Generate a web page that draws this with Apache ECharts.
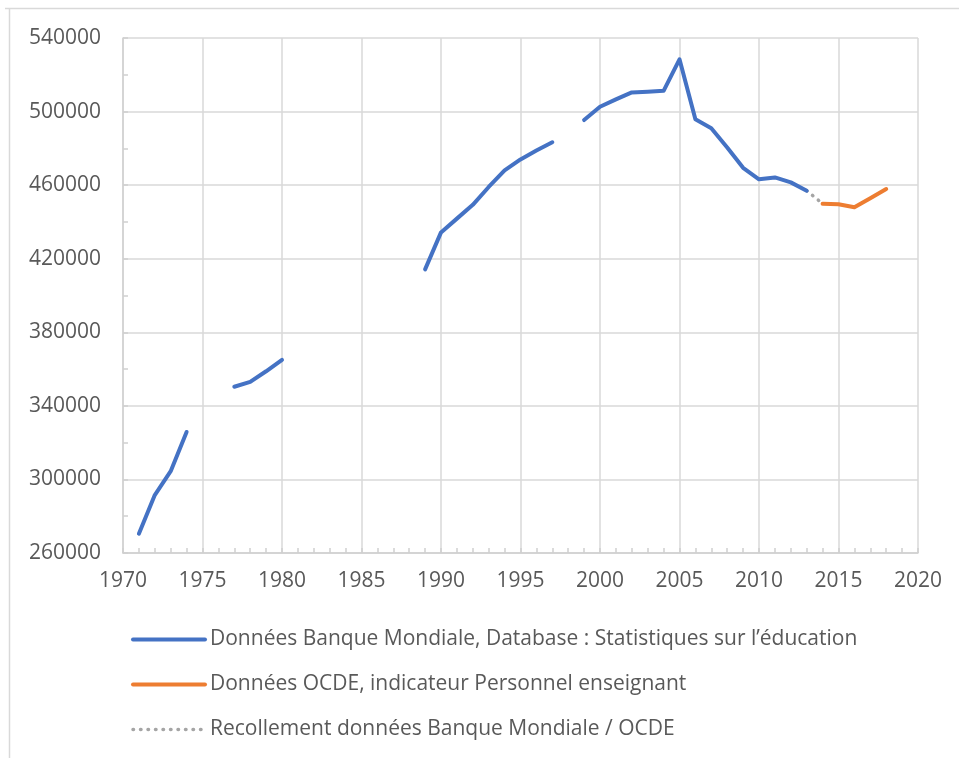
<!DOCTYPE html>
<html><head><meta charset="utf-8">
<script src="https://cdn.jsdelivr.net/npm/echarts@6/dist/echarts.min.js"></script>
<style>html,body{margin:0;padding:0;background:#fff}#c{width:959px;height:758px}</style>
</head><body><div id="c"></div>
<script>
const years = [1971,1972,1973,1974,1975,1976,1977,1978,1979,1980,1981,1982,1983,1984,1985,1986,1987,1988,1989,1990,1991,1992,1993,1994,1995,1996,1997,1998,1999,2000,2001,2002,2003,2004,2005,2006,2007,2008,2009,2010,2011,2012,2013];
const banqueMondiale = [270500,291500,304500,325800,null,null,350400,353000,358800,365000,null,null,null,null,null,null,null,null,414200,434300,441800,449300,459000,468000,474000,478800,483300,null,495400,502600,506600,510400,510800,511300,528400,495800,490900,480500,469400,463200,464200,461500,457000];
const ocdeYears = [2014,2015,2016,2017,2018];
const ocde = [449900,449600,448000,452900,457900];
const recolYears = [2013,2014];
const recol = [457000,449900];
const seriesNames = ["Données Banque Mondiale, Database : Statistiques sur l’éducation","Données OCDE, indicateur Personnel enseignant","Recollement données Banque Mondiale / OCDE"];

const pair = (xs, ys) => xs.map((x, i) => [x, ys[i]]);
const FONT = "Open Sans";
const chart = echarts.init(document.getElementById('c'), null, {renderer: 'canvas'});
chart.setOption({
  animation: false,
  backgroundColor: '#fff',
  textStyle: {fontFamily: FONT},
  grid: {left: 123, right: 41, top: 38, bottom: 205, containLabel: false},
  xAxis: {
    type: 'value', min: 1970, max: 2020, interval: 5,
    axisLine: {show: true, lineStyle: {color: '#d0d0d0', width: 1.5}},
    axisTick: {show: true, inside: true, length: 5, lineStyle: {color: '#d0d0d0', width: 1.5}},
    minorTick: {show: true, splitNumber: 5, length: 5, lineStyle: {color: '#d0d0d0', width: 1.5}},
    splitLine: {show: true, lineStyle: {color: '#d9d9d9', width: 1.5}},
    axisLabel: {color: '#595959', fontSize: 21, fontFamily: FONT, margin: 18, formatter: v => String(v)}
  },
  yAxis: {
    type: 'value', min: 260000, max: 540000, interval: 40000,
    axisLine: {show: true, lineStyle: {color: '#d0d0d0', width: 1.5}},
    axisTick: {show: true, inside: true, length: 5, lineStyle: {color: '#d0d0d0', width: 1.5}},
    minorTick: {show: true, splitNumber: 2, length: 5, lineStyle: {color: '#d0d0d0', width: 1.5}},
    splitLine: {show: true, lineStyle: {color: '#d9d9d9', width: 1.5}},
    axisLabel: {color: '#595959', fontSize: 21, fontFamily: FONT, margin: 22, formatter: v => String(v)}
  },
  legend: {
    orient: 'vertical', left: 126, top: 624,
    itemWidth: 72, itemHeight: 14, itemGap: 24,
    itemStyle: {opacity: 0},
    textStyle: {color: '#595959', fontSize: 21, fontFamily: FONT},
    data: [
      {name: seriesNames[0], lineStyle: {width: 4, color: '#4472C4', cap: 'round'}},
      {name: seriesNames[1], lineStyle: {width: 4, color: '#ED7D31', cap: 'round'}},
      {name: seriesNames[2], lineStyle: {width: 3.5, color: '#A5A5A5', type: [0.5, 7], cap: 'round'}}
    ]
  },
  graphic: [
    {type: 'line', shape: {x1: 5, y1: 8.5, x2: 959, y2: 8.5}, style: {stroke: '#d9d9d9', lineWidth: 1.5}},
    {type: 'line', shape: {x1: 9.5, y1: 8, x2: 9.5, y2: 758}, style: {stroke: '#d9d9d9', lineWidth: 1.5}}
  ],
  series: [
    {name: seriesNames[0], type: 'line', data: pair(years, banqueMondiale), symbol: 'none', connectNulls: false,
     lineStyle: {color: '#4472C4', width: 4, cap: 'round', join: 'round'}, itemStyle: {color: '#4472C4'}, z: 3},
    {name: seriesNames[1], type: 'line', data: pair(ocdeYears, ocde), symbol: 'none',
     lineStyle: {color: '#ED7D31', width: 4, cap: 'round', join: 'round'}, itemStyle: {color: '#ED7D31'}, z: 3},
    {name: seriesNames[2], type: 'line', data: pair(recolYears, recol), symbol: 'none',
     lineStyle: {color: '#A5A5A5', width: 3.5, type: [0.5, 7], cap: 'round'}, itemStyle: {color: '#A5A5A5'}, z: 2}
  ]
});
</script></body></html>
